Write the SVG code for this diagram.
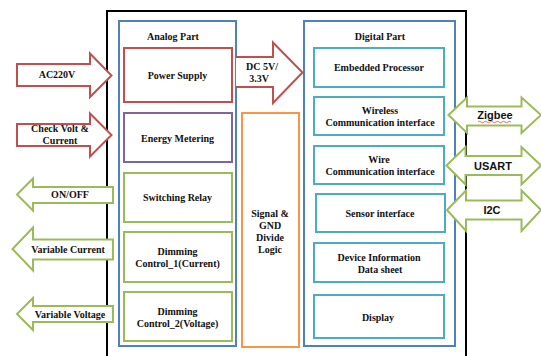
<svg xmlns="http://www.w3.org/2000/svg" width="541" height="356" viewBox="0 0 541 356">
<style>
.t{font-family:"Liberation Serif","Times New Roman",serif;font-weight:bold;font-size:10px;fill:#111;text-anchor:middle}
.s{font-family:"Liberation Sans",Arial,sans-serif;font-weight:bold;font-size:11px;fill:#111;text-anchor:middle}
.box{fill:#fff;stroke-width:2}
.red{stroke:#C0504D}.pur{stroke:#8064A2}.grn{stroke:#9BBB59}.cyn{stroke:#4BACC6}.blu{stroke:#4F81BD}.org{stroke:#F79646}
.arr{fill:#fff;stroke-width:2;stroke-linejoin:miter}
</style>
<rect width="541" height="356" fill="#fff"/>
<path id="outer" d="M107,360 V11 H466 V360" fill="none" stroke="#000" stroke-width="2"/>
<g id="analog-part"><rect class="box blu" x="119" y="21" width="117" height="325"/><text class="t" x="173" y="39.5">Analog Part</text></g>
<g id="digital-part"><rect class="box blu" x="304" y="21" width="151" height="325"/><text class="t" x="380" y="39.5">Digital Part</text></g>
<g id="power-supply"><rect class="box red" x="124" y="48" width="108" height="54"/><text class="t" x="177.5" y="78.5">Power Supply</text></g>
<g id="energy-metering"><rect class="box pur" x="124" y="113" width="108" height="49"/><text class="t" x="177.5" y="141.5">Energy Metering</text></g>
<g id="switching-relay"><rect class="box grn" x="124" y="173" width="108" height="49"/><text class="t" x="177.5" y="200.5">Switching Relay</text></g>
<g id="dimming-1"><rect class="box grn" x="124" y="232" width="108" height="50"/><text class="t" x="177.5" y="254.5">Dimming</text><text class="t" x="177.5" y="266.5">Control_1(Current)</text></g>
<g id="dimming-2"><rect class="box grn" x="124" y="292" width="108" height="49"/><text class="t" x="177.5" y="314.5">Dimming</text><text class="t" x="177.5" y="326.5">Control_2(Voltage)</text></g>
<g id="signal-gnd"><rect class="box org" x="242" y="113" width="57" height="234"/><text class="t" x="270" y="216.5">Signal &amp;</text><text class="t" x="270" y="228.5">GND</text><text class="t" x="270" y="240.5">Divide</text><text class="t" x="270" y="252.5">Logic</text></g>
<g id="embedded-processor"><rect class="box cyn" x="314" y="48" width="130" height="39"/><text class="t" x="379" y="70.5">Embedded Processor</text></g>
<g id="wireless"><rect class="box cyn" x="314" y="97" width="130" height="38"/><text class="t" x="380" y="113.5">Wireless</text><text class="t" x="380" y="125.5">Communication interface</text></g>
<g id="wire"><rect class="box cyn" x="314" y="146" width="130" height="38"/><text class="t" x="379" y="162.5">Wire</text><text class="t" x="380" y="174.5">Communication interface</text></g>
<g id="sensor-interface"><rect class="box cyn" x="316" y="194" width="129" height="38"/><text class="t" x="380" y="216.5">Sensor interface</text></g>
<g id="device-information"><rect class="box cyn" x="314" y="243" width="130" height="39"/><text class="t" x="379" y="260.5">Device Information</text><text class="t" x="380" y="272.5">Data sheet</text></g>
<g id="display"><rect class="box cyn" x="314" y="295" width="130" height="43"/><text class="t" x="378" y="320.5">Display</text></g>
<g id="connectors">
<g id="ac220v"><path class="arr red" d="M17,64 H90 V53.5 L111.5,75.5 L90,97 V86 H17 Z"/><text class="t" x="57" y="77.5">AC220V</text></g>
<g id="check-volt"><path class="arr red" d="M17,124 H90 V113.5 L111.5,135 L90,156.5 V146 H17 Z"/><text class="t" x="60" y="131.5">Check Volt &amp;</text><text class="t" x="60" y="143.5">Current</text></g>
<g id="dc"><path class="arr red" d="M236,57 H273 V42.5 L302.5,72.5 L273,103 V87 H236"/><text class="t" x="262" y="69.5">DC 5V/</text><text class="t" x="259" y="81.5">3.3V</text></g>
<g id="onoff"><path class="arr grn" d="M113,187 H33 V178.5 L17,194.5 L33,210.5 V203 H113 Z"/><text class="t" x="70" y="197.5">ON/OFF</text></g>
<g id="var-current"><path class="arr grn" d="M113,239.5 H33 V227.5 L12.5,249 L33,270.5 V259.5 H113 Z"/><text class="t" x="68" y="252.5">Variable  Current</text></g>
<g id="var-voltage"><path class="arr grn" d="M113,306 H33 V298 L17,314 L33,330 V322 H113 Z"/><text class="t" x="70" y="317.5">Variable Voltage</text></g>
<g id="zigbee"><path class="arr grn" d="M448.5,115 L467,97.5 V106.5 H521.5 V97.5 L541,115 L521.5,133 V125.5 H467 V133 Z"/><text class="s" x="495" y="119">Zigbee</text><path d="M478,122 q1.5,-1.5 3,0 t3,0 t3,0 t3,0 t3,0 t3,0 t3,0 t3,0 t3,0 t3,0 t3,0" fill="none" stroke="#E03030" stroke-width="0.7"/></g>
<g id="usart"><path class="arr grn" d="M446.5,165.5 L465.5,147 V156 H521.5 V147 L541,165.5 L521.5,184.5 V175 H465.5 V184.5 Z"/><text class="s" x="493" y="169.5">USART</text></g>
<g id="i2c"><path class="arr grn" d="M447,210 L466,190.5 V200.5 H521.5 V190.5 L541,210 L521.5,231 V219.5 H466 V231 Z"/><text class="s" x="492" y="213.5">I2C</text></g>
</g>
</svg>
